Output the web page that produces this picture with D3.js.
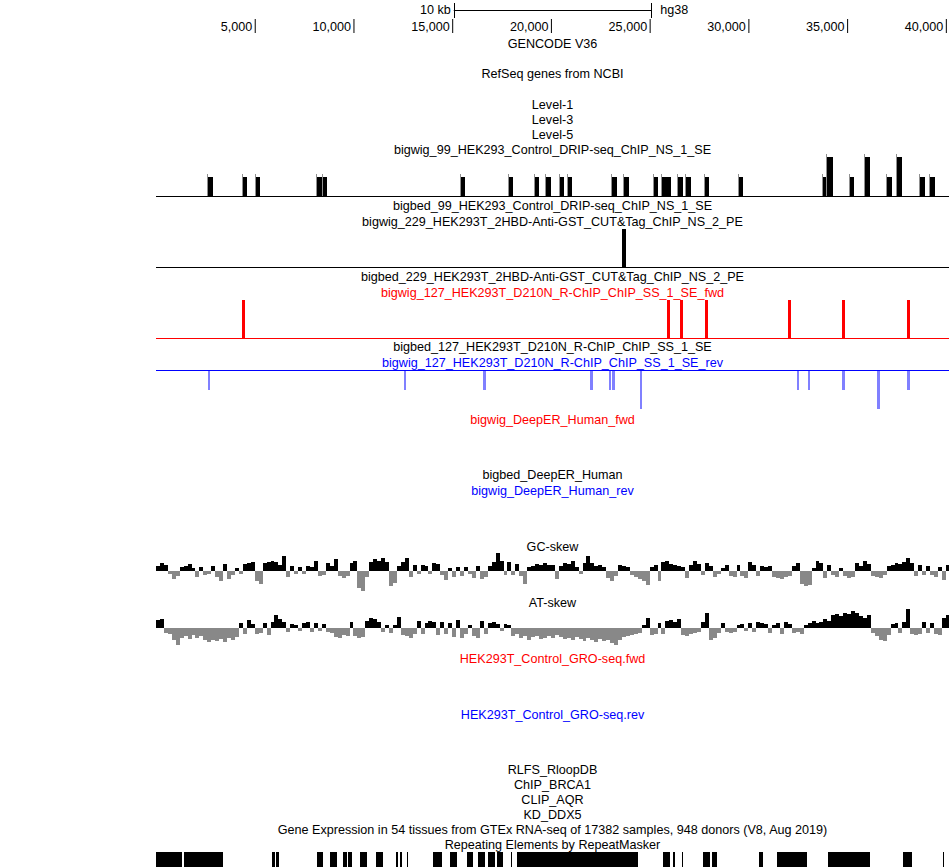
<!DOCTYPE html>
<html><head><meta charset="utf-8">
<script src="https://cdn.jsdelivr.net/npm/d3@7"></script>
<style>
html,body{margin:0;padding:0;background:#fff;}
svg text{font-family:"Liberation Sans",Arial,Helvetica,sans-serif;font-size:12.6px;}
</style></head>
<body><svg id="c" width="950" height="868"></svg>
<script>
// ---------- data ----------
const genomeRange = [0, 40160];
const axisTicks = [5000, 10000, 15000, 20000, 25000, 30000, 35000, 40000];
const scaleBarBp = 10000;
const scaleBarLabel = "10 kb";
const assemblyLabel = "hg38";

// DRIP-seq peaks: [start, end, value]
const dripPeaks = [
  [2633,2887,1],[4406,4608,1],[5064,5267,1],[8153,8406,1],[8457,8660,1],
  [15445,15647,1],[17876,18078,1],[19193,19395,1],[19750,20003,1],[20459,20661,1],
  [20864,21066,1],[23092,23345,1],[23699,23953,1],[25219,25421,1],[25624,26080,1],
  [26434,26687,1],[26839,27092,1],[27801,28004,1],[29523,29725,1],[33777,33980,1],
  [33980,34283,2],[35144,35347,1],[35904,36157,2],[37018,37271,1],[37524,37777,2],
  [38689,38942,1],[39196,39449,1]
];
// CUT&Tag peaks
const cutTagPeaks = [[23598,23801,1]];
// R-ChIP forward strand peaks
const rchipFwd = [
  [4355,4507,1],[25877,26029,1],[26535,26687,1],[27801,27953,1],
  [32004,32156,1],[34739,34891,1],[38031,38183,1]
];
// R-ChIP reverse strand peaks (negative)
const rchipRev = [
  [2633,2735,-1],[12559,12660,-1],[16559,16711,-1],[21978,22129,-1],
  [22940,23041,-1],[23092,23244,-1],[24510,24611,-2],[32460,32562,-1],
  [33017,33118,-1],[34739,34891,-1],[36511,36663,-2],[38031,38183,-1]
];
// skew tracks: one value per 200 bp bin, starting at 0
const skewBin = 200;
const gcSkew = [
 0.05,0.08,0.06,-0.03,-0.08,-0.05,0.04,0.05,0.07,0.03,
 -0.06,0.04,-0.04,-0.03,0.05,-0.06,-0.1,0.07,-0.08,-0.04,
 0.03,-0.03,0.07,0.08,0.09,-0.1,-0.13,0.08,0.09,0.1,
 0.09,0.06,0.15,-0.06,0.05,-0.03,0.04,-0.03,0.05,0.04,
 0.1,-0.05,-0.04,0.08,0.05,0.12,-0.05,-0.07,-0.05,0.08,
 0.1,-0.17,-0.2,-0.06,0.09,0.12,0.1,0.13,0.09,-0.15,
 -0.12,0.05,0.09,0.13,-0.06,0.06,-0.03,0.06,0.05,-0.03,
 0.08,0.07,-0.04,-0.09,0.03,-0.06,0.04,-0.05,0.04,-0.03,
 -0.07,0.05,-0.08,-0.06,0.05,0.09,0.18,0.1,-0.04,0.09,
 -0.04,0.07,-0.05,-0.13,0.04,0.05,0.07,0.06,0.08,0.06,
 0.06,-0.08,0.05,0.08,0.07,0.1,0.04,-0.03,0.08,0.15,
 0.08,0.05,0.06,0.04,-0.07,-0.1,-0.05,0.06,0.05,0.04,
 -0.04,-0.06,-0.08,-0.1,-0.14,0.04,0.06,-0.1,0.09,0.1,
 0.07,0.06,0.05,0.04,-0.07,0.06,0.1,0.07,-0.04,0.08,
 0.05,-0.06,-0.03,0.03,0.06,-0.05,-0.06,0.06,-0.05,-0.07,
 0.09,0.06,-0.05,0.05,0.04,0.05,-0.06,-0.07,-0.08,-0.06,
 -0.05,0.05,0.08,-0.13,-0.15,-0.14,0.03,0.1,0.08,-0.07,
 0.06,-0.04,-0.06,0.03,-0.05,-0.07,-0.06,0.08,0.05,0.1,
 0.07,-0.05,-0.06,-0.07,-0.04,0.05,0.06,0.08,0.07,0.09,
 0.13,0.08,-0.05,0.06,-0.04,0.05,-0.04,-0.06,0.04,-0.09,
 0.06
];
const atSkew = [
 0.08,0.09,-0.05,-0.06,-0.12,-0.17,-0.1,-0.08,-0.11,-0.07,
 -0.1,-0.08,-0.12,-0.14,-0.12,-0.13,-0.11,-0.14,-0.1,-0.12,
 -0.09,0.05,-0.06,0.08,0.04,-0.06,-0.05,0.05,-0.07,0.06,
 0.13,0.09,0.06,-0.04,0.04,0.03,-0.03,0.05,0.06,-0.04,
 0.05,-0.03,0.04,-0.04,-0.05,-0.09,-0.1,-0.07,-0.08,0.06,
 -0.08,-0.1,-0.09,0.07,0.1,0.09,0.06,-0.04,0.03,-0.05,
 0.03,0.11,-0.07,-0.08,-0.1,-0.06,0.07,-0.06,0.05,0.07,
 0.06,-0.07,0.06,-0.06,0.05,-0.09,0.08,-0.1,-0.06,0.03,
 -0.08,-0.1,0.07,-0.06,0.05,0.06,0.04,-0.03,0.04,0.03,
 -0.08,-0.06,-0.1,-0.08,-0.12,-0.09,-0.08,-0.11,-0.1,-0.08,
 -0.1,-0.07,-0.09,-0.11,-0.1,-0.12,-0.09,-0.11,-0.13,-0.1,
 -0.12,-0.14,-0.11,-0.13,-0.12,-0.15,-0.17,-0.12,-0.09,-0.08,
 -0.07,-0.06,-0.05,0.03,0.1,-0.07,-0.06,0.05,-0.06,0.07,
 0.08,0.06,0.09,-0.07,-0.08,-0.06,-0.05,-0.04,0.06,0.15,
 -0.12,-0.1,-0.05,0.05,-0.04,-0.05,-0.04,0.03,0.04,-0.03,
 0.05,-0.04,0.06,0.05,0.04,-0.05,0.03,0.05,-0.06,0.06,
 0.04,-0.05,-0.04,-0.06,0.03,0.05,0.07,0.05,0.06,0.09,
 0.07,0.13,0.14,0.12,0.15,0.14,0.17,0.15,0.12,0.1,
 0.13,-0.05,-0.08,-0.12,-0.13,-0.07,0.04,0.05,-0.05,0.06,
 0.19,-0.06,-0.07,-0.06,0.06,-0.05,0.05,-0.06,-0.07,0.1,
 0.13
];
// RepeatMasker elements: [start, end]
const repeats = [
  [0,1317],[1418,3393],[5874,6026],[6077,6229],[8153,8457],[8811,9166],
  [9470,9672],[9723,9925],[10331,10686],[11141,11495],[12154,12255],[12356,12458],
  [12711,12761],[14027,14483],[14888,15243],[15749,16053],[16306,16661],[16813,17167],
  [17268,17572],[17978,18028],[18281,24409],[25675,26029],[26181,26282],[26636,26687],
  [27700,28054],[28156,28409],[30536,30738],[31447,32966],[34030,36157],[37828,38284],
  [39854,39905]
];
// track labels: [text, colour key]
const trackLabels = [
  ["GENCODE V36","k"],["RefSeq genes from NCBI","k"],["Level-1","k"],["Level-3","k"],["Level-5","k"],
  ["bigwig_99_HEK293_Control_DRIP-seq_ChIP_NS_1_SE","k"],
  ["bigbed_99_HEK293_Control_DRIP-seq_ChIP_NS_1_SE","k"],
  ["bigwig_229_HEK293T_2HBD-Anti-GST_CUT&Tag_ChIP_NS_2_PE","k"],
  ["bigbed_229_HEK293T_2HBD-Anti-GST_CUT&Tag_ChIP_NS_2_PE","k"],
  ["bigwig_127_HEK293T_D210N_R-ChIP_ChIP_SS_1_SE_fwd","r"],
  ["bigbed_127_HEK293T_D210N_R-ChIP_ChIP_SS_1_SE","k"],
  ["bigwig_127_HEK293T_D210N_R-ChIP_ChIP_SS_1_SE_rev","b"],
  ["bigwig_DeepER_Human_fwd","r"],["bigbed_DeepER_Human","k"],["bigwig_DeepER_Human_rev","b"],
  ["GC-skew","k"],["AT-skew","k"],
  ["HEK293T_Control_GRO-seq.fwd","r"],["HEK293T_Control_GRO-seq.rev","b"],
  ["RLFS_RloopDB","k"],["ChIP_BRCA1","k"],["CLIP_AQR","k"],["KD_DDX5","k"],
  ["Gene Expression in 54 tissues from GTEx RNA-seq of 17382 samples, 948 donors (V8, Aug 2019)","k"],
  ["Repeating Elements by RepeatMasker","k"]
];

// ---------- layout ----------
const labelY = [48,78,109,124,139,154,210,226,281,297,351,367,424,479,495,551,607,663,719,774,789,804,819,834,849];
const colours = {k:"#000000", r:"#ff0000", b:"#0000ff"};

const svg = d3.select("#c");
const x = d3.scaleLinear().domain(genomeRange).range([156, 949]);
const cx = (x.range()[0] + x.range()[1]) / 2;

// scale bar
const barW = x(scaleBarBp) - x(0);
const sb = svg.append("g");
sb.append("line").attr("x1", cx - barW/2).attr("x2", cx + barW/2).attr("y1", 10.5).attr("y2", 10.5).attr("stroke", "#000");
[cx - barW/2, cx + barW/2].forEach(v => sb.append("line").attr("x1", Math.round(v)+0.5).attr("x2", Math.round(v)+0.5).attr("y1", 3).attr("y2", 18).attr("stroke", "#000"));
sb.append("text").attr("x", cx - barW/2 - 3).attr("y", 14).attr("text-anchor", "end").text(scaleBarLabel);
sb.append("text").attr("x", cx + barW/2 + 9).attr("y", 14).text(assemblyLabel);

// axis
const axis = d3.axisBottom(x).tickValues(axisTicks).tickFormat(d3.format(",")).tickSize(14).tickSizeOuter(0);
const ag = svg.append("g").attr("transform", "translate(0,19)").call(axis);
ag.select(".domain").remove();
ag.selectAll(".tick line").attr("stroke", "#000");
ag.selectAll(".tick text").attr("x", -3).attr("y", 12).attr("dy", 0).attr("text-anchor", "end")
  .attr("fill", "#000").style("font-size", "12.6px").style("font-family", '"Liberation Sans",Arial,sans-serif');

// labels
svg.append("g").selectAll("text").data(trackLabels).join("text")
  .attr("x", cx).attr("y", (d, i) => labelY[i]).attr("text-anchor", "middle")
  .attr("fill", d => colours[d[1]]).text(d => d[0]);

// helper for signal tracks
function signalTrack(data, y0, yScale, fill, baseColour, spike) {
  const g = svg.append("g").attr("shape-rendering", "crispEdges");
  g.selectAll("rect").data(data).join("rect")
    .attr("x", d => Math.round(x(d[0])))
    .attr("width", d => Math.max(1, Math.round(x(d[1])) - Math.round(x(d[0]))))
    .attr("y", d => Math.min(yScale(d[2]), yScale(0)))
    .attr("height", d => Math.abs(yScale(d[2]) - yScale(0)))
    .attr("fill", fill);
  if (spike) {
    g.selectAll("line.sp").data(data).join("line").attr("class", "sp")
      .attr("x1", d => Math.round(x(d[0])) - 0.5).attr("x2", d => Math.round(x(d[0])) - 0.5)
      .attr("y1", yScale(0)).attr("y2", d => yScale(d[2]) - 3)
      .attr("stroke", spike);
  }
  g.append("line").attr("x1", x.range()[0]).attr("x2", x.range()[1])
    .attr("y1", y0 + 0.5).attr("y2", y0 + 0.5).attr("stroke", baseColour);
}

// DRIP-seq
signalTrack(dripPeaks, 196, d3.scaleLinear().domain([0, 2]).range([196, 157]), "#000", "#000", "#909090");
// CUT&Tag
signalTrack(cutTagPeaks, 267, d3.scaleLinear().domain([0, 1]).range([267, 229]), "#000", "#000", null);
// R-ChIP fwd
signalTrack(rchipFwd, 338, d3.scaleLinear().domain([0, 1]).range([338, 300]), "#ff0000", "#ff0000", null);
// R-ChIP rev
signalTrack(rchipRev, 370, d3.scaleLinear().domain([0, -2]).range([371, 409]), "#8080ff", "#0000ff", null);

// skew tracks
function skewTrack(values, y0) {
  const ys = d3.scaleLinear().domain([-0.2, 0.2]).range([y0 + 20, y0 - 20]);
  const g = svg.append("g").attr("shape-rendering", "crispEdges");
  g.selectAll("rect").data(values).join("rect")
    .attr("x", (d, i) => Math.round(x(i * skewBin)))
    .attr("width", (d, i) => Math.round(x(Math.min((i + 1) * skewBin, genomeRange[1]))) - Math.round(x(i * skewBin)))
    .attr("y", d => d >= 0 ? ys(d) : ys(0))
    .attr("height", d => Math.abs(ys(d) - ys(0)))
    .attr("fill", d => d >= 0 ? "#000" : "#888");
}
skewTrack(gcSkew, 571);
skewTrack(atSkew, 628);

// RepeatMasker
svg.append("g").attr("shape-rendering", "crispEdges").selectAll("rect").data(repeats).join("rect")
  .attr("x", d => Math.round(x(d[0])))
  .attr("width", d => Math.max(1, Math.round(x(d[1])) - Math.round(x(d[0]))))
  .attr("y", 852).attr("height", 15).attr("fill", "#000");
</script></body></html>
